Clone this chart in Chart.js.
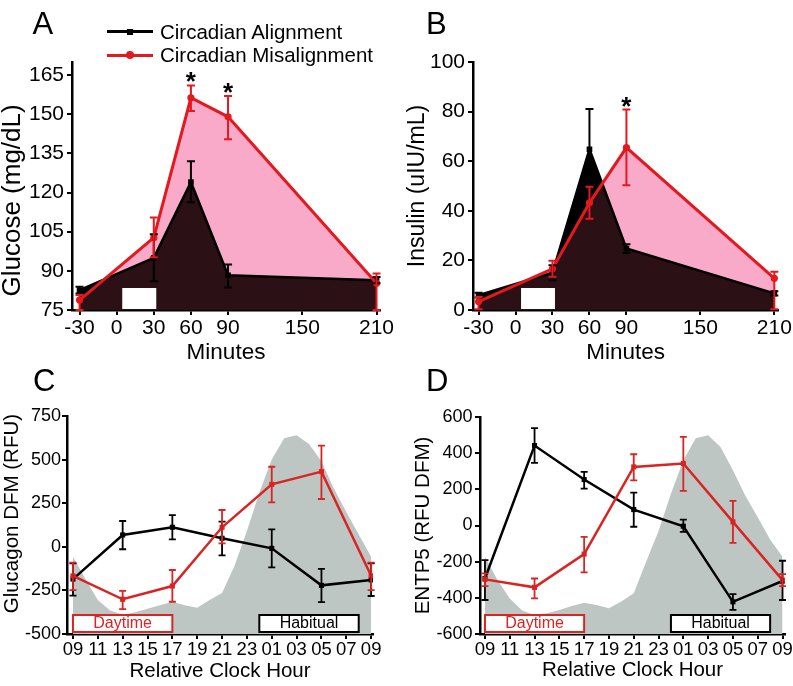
<!DOCTYPE html>
<html>
<head>
<meta charset="utf-8">
<title>Circadian alignment vs misalignment</title>
<script src="https://cdn.jsdelivr.net/npm/chart.js@4.4.1/dist/chart.umd.min.js"></script>
<style>
  body { margin: 0; background: #fff; font-family: 'Liberation Sans', Arial, sans-serif; }
  #fig { position: relative; width: 793px; height: 686px; overflow: hidden; }
  canvas { position: absolute; }
  .letter { position: absolute; font-size: 31px; line-height: 30px; color: #000; }
  .legend-row { position: absolute; left: 107px; height: 24px; width: 300px; font-size: 20.5px; line-height: 24px; white-space: nowrap; }
  .legend-row .swatch { position: absolute; left: 0; top: 10.5px; width: 46px; height: 3px; }
  .legend-row .mark { position: absolute; }
  .legend-row .label { position: absolute; left: 53px; top: 0; }
</style>
</head>
<body>
<div id="fig">
  <canvas id="chartA" width="396" height="372" style="left:0;top:0"></canvas>
  <canvas id="chartB" width="397" height="372" style="left:396px;top:0"></canvas>
  <canvas id="chartC" width="396" height="314" style="left:0;top:372px"></canvas>
  <canvas id="chartD" width="397" height="314" style="left:396px;top:372px"></canvas>

  <div class="letter" style="left:32.5px;top:9px">A</div>
  <div class="letter" style="left:426px;top:9px">B</div>
  <div class="letter" style="left:33px;top:365.5px">C</div>
  <div class="letter" style="left:426px;top:365.5px">D</div>

  <div class="legend-row" style="top:19.5px">
    <span class="swatch" style="background:#000"></span>
    <span class="mark" style="left:20px;top:9px;width:6px;height:6px;background:#000"></span>
    <span class="label">Circadian Alignment</span>
  </div>
  <div class="legend-row" style="top:43px">
    <span class="swatch" style="background:#e3191e"></span>
    <span class="mark" style="left:19px;top:8px;width:8px;height:8px;border-radius:50%;background:#e3191e"></span>
    <span class="label">Circadian Misalignment</span>
  </div>
</div>

<script>
// A / B: meal test, minutes from start of meal
const minutes = [-30, 30, 60, 90, 210];
const minuteTicks = [-30, 0, 30, 60, 90, 150, 210];
const mealWindow = [4.5, 32];

const glucoseAlign   = [82.6, 95, 124, 88.3, 86.4];
const glucoseAlignHi = [83.9, 104, 132, 92.4, 87.6];
const glucoseAlignLo = [81.3, 86, 116.3, 83.6, 85.2];
const glucoseMis     = [78.8, 102.7, 156.3, 149, 85.2];
const glucoseMisHi   = [80.7, 110.4, 161, 157, 89];
const glucoseMisLo   = [75, 95.2, 151.2, 140.4, 75];
const glucoseTicks = [75, 90, 105, 120, 135, 150, 165];
const glucoseStars = [60, 90];

const insulinAlign   = [6.0, 15, 64.8, 24.8, 6.7];
const insulinAlignHi = [7, 18, 81, 26.5, 7.6];
const insulinAlignLo = [5, 12, 48.6, 23, 5.8];
const insulinMis     = [3.4, 16.6, 43.2, 65.5, 12.8];
const insulinMisHi   = [5.2, 19.9, 49.7, 80.8, 15.4];
const insulinMisLo   = [0.3, 13.4, 36.8, 50.3, 0.3];
const insulinTicks = [0, 20, 40, 60, 80, 100];
const insulinStars = [90];

// C / D: relative clock hour (0 = 09:00)
const hours = [0, 4, 8, 12, 16, 20, 24];
const bandHours = [0, 1, 2, 3, 4, 5, 6, 7, 8, 9, 10, 11, 12, 13, 14, 15, 16, 17, 18, 19, 20, 21, 22, 23, 24];
const clockTicks = [0, 2, 4, 6, 8, 10, 12, 14, 16, 18, 20, 22, 24];
const clockLabels = ['09', '11', '13', '15', '17', '19', '21', '23', '01', '03', '05', '07', '09'];
const dayWindow = [0, 8];
const habitualWindow = [15, 23];

const glucagonAlign   = [-185, 68, 112, 49, -9, -221, -190];
const glucagonAlignHi = [-95, 148, 182, 144, 100, -127, -95];
const glucagonAlignLo = [-280, -14, 43, -49, -118, -317, -282];
const glucagonMis     = [-167, -301, -225, 112, 358, 431, -166];
const glucagonMisHi   = [-91, -253, -133, 211, 459, 580, -91];
const glucagonMisLo   = [-248, -357, -315, 20, 255, 274, -248];
const glucagonBand = [-57, -185, -305, -365, -390, -375, -355, -335, -315, -335, -350, -305, -265, -110, 90, 310, 500, 622, 640, 590, 490, 335, 200, 70, -57];
const glucagonTicks = [-500, -250, 0, 250, 500, 750];

const entpAlign   = [-293, 442, 254, 88, -4, -422, -307];
const entpAlignHi = [-191, 539, 296, 182, 33, -379, -195];
const entpAlignLo = [-412, 346, 204, -7, -35, -467, -412];
const entpMis     = [-298, -342, -158, 324, 343, 20, -302];
const entpMisHi   = [-265, -293, -63, 394, 490, 136, -269];
const entpMisLo   = [-335, -403, -259, 250, 191, -96, -335];
const entpBand = [-173, -300, -403, -470, -495, -485, -467, -445, -427, -440, -458, -420, -375, -200, -30, 175, 361, 482, 499, 434, 305, 165, 45, -78, -173];
const entpTicks = [-600, -400, -200, 0, 200, 400, 600];

const FONT = "'Liberation Sans', Arial, sans-serif";
const RED = '#e3191e';
const RED2 = '#d82423';
const PINK = '#f9aac9';
const MAROON = '#2b1016';
const GRAY = '#bec6c4';

const pts = (xs, ys) => xs.map((x, i) => ({ x: x, y: ys[i] }));

function series(label, xs, ys, color, style, order, width, radius) {
    return {
        label: label, data: pts(xs, ys), borderColor: color, backgroundColor: color,
        borderWidth: width, pointStyle: style, pointRadius: radius, pointBorderWidth: 0,
        tension: 0, fill: false, order: order
    };
}

function axes(o) {
    return {
        x: {
            type: 'linear', min: o.xMin, max: o.xMax,
            afterBuildTicks: s => { s.ticks = o.xTicks.map(v => ({ value: v })); },
            afterFit: s => { s.height = o.xHeight; },
            grid: { drawOnChartArea: false, drawTicks: true, tickLength: 5, color: '#000', lineWidth: 2 },
            border: { color: '#000', width: 2.5 },
            ticks: {
                color: '#000', font: { family: FONT, size: o.xTickSize }, padding: o.xTickPad,
                maxRotation: 0, autoSkip: false,
                callback: o.xLabels ? (v, i) => o.xLabels[i] : v => String(v)
            },
            title: { display: true, text: o.xTitle, color: '#000', font: { family: FONT, size: o.xTitleSize }, padding: { top: 0, bottom: o.xTitlePad } }
        },
        y: {
            type: 'linear', min: o.yMin, max: o.yMax,
            afterBuildTicks: s => { s.ticks = o.yTicks.map(v => ({ value: v })); },
            afterFit: s => { s.width = o.yWidth; },
            grid: { drawOnChartArea: false, drawTicks: true, tickLength: 5, color: '#000', lineWidth: 2 },
            border: { color: '#000', width: 2.5 },
            ticks: { color: '#000', font: { family: FONT, size: o.yTickSize }, padding: o.yTickPad, callback: v => String(v) },
            title: { display: true, text: o.yTitle, color: '#000', font: { family: FONT, size: o.yTitleSize }, padding: { top: o.yTitlePad, bottom: 0 } }
        }
    };
}

function drawErrorBars(chart, bars) {
    const ctx = chart.ctx, ys = chart.scales.y;
    bars.forEach(b => {
        const meta = chart.getDatasetMeta(b.index);
        ctx.save();
        ctx.strokeStyle = b.color;
        ctx.lineWidth = b.width;
        meta.data.forEach((p, j) => {
            const top = ys.getPixelForValue(b.hi[j]);
            const bot = ys.getPixelForValue(b.lo[j]);
            ctx.beginPath();
            ctx.moveTo(p.x, top); ctx.lineTo(p.x, bot);
            ctx.moveTo(p.x - b.cap, top); ctx.lineTo(p.x + b.cap, top);
            ctx.moveTo(p.x - b.cap, bot); ctx.lineTo(p.x + b.cap, bot);
            ctx.stroke();
        });
        ctx.restore();
    });
}

function areaPath(chart, index) {
    const points = chart.getDatasetMeta(index).data;
    const base = chart.chartArea.bottom;
    const path = new Path2D();
    path.moveTo(points[0].x, base);
    points.forEach(p => path.lineTo(p.x, p.y));
    path.lineTo(points[points.length - 1].x, base);
    path.closePath();
    return path;
}

// shaded areas under both curves, overlap darker, plus white meal bar
function mealPlugin(bars, stars, starHi) {
    return {
        id: 'mealMarks',
        beforeDatasetsDraw(chart) {
            const ctx = chart.ctx;
            const align = areaPath(chart, 0), mis = areaPath(chart, 1);
            ctx.save();
            ctx.fillStyle = PINK; ctx.fill(mis);
            ctx.fillStyle = '#000'; ctx.fill(align);
            ctx.clip(align);
            ctx.fillStyle = MAROON; ctx.fill(mis);
            ctx.restore();

            const xs = chart.scales.x;
            const x0 = xs.getPixelForValue(mealWindow[0]), x1 = xs.getPixelForValue(mealWindow[1]);
            ctx.fillStyle = '#fff';
            ctx.fillRect(x0, chart.chartArea.bottom - 22, x1 - x0, 21);
        },
        afterDatasetsDraw(chart) {
            drawErrorBars(chart, bars);
            const ctx = chart.ctx, xs = chart.scales.x, ys = chart.scales.y;
            ctx.save();
            ctx.fillStyle = '#000';
            ctx.font = 'bold 26px ' + FONT;
            ctx.textAlign = 'center';
            ctx.textBaseline = 'alphabetic';
            stars.forEach(m => {
                const j = minutes.indexOf(m);
                ctx.fillText('*', xs.getPixelForValue(m), ys.getPixelForValue(starHi[j]) + 5);
            });
            ctx.restore();
        }
    };
}

function clockPlugin(bars) {
    return {
        id: 'clockMarks',
        afterDatasetsDraw(chart) {
            const ctx = chart.ctx, xs = chart.scales.x, bottom = chart.chartArea.bottom;
            [[dayWindow, 'Daytime', RED2], [habitualWindow, 'Habitual', '#000']].forEach(([w, text, color]) => {
                const x0 = xs.getPixelForValue(w[0]), x1 = xs.getPixelForValue(w[1]);
                ctx.save();
                ctx.fillStyle = '#fff';
                ctx.fillRect(x0, bottom - 19, x1 - x0, 17);
                ctx.strokeStyle = color; ctx.lineWidth = 2;
                ctx.strokeRect(x0, bottom - 19, x1 - x0, 17);
                ctx.fillStyle = color;
                ctx.font = '16px ' + FONT;
                ctx.textAlign = 'center';
                ctx.textBaseline = 'middle';
                ctx.fillText(text, (x0 + x1) / 2, bottom - 10);
                ctx.restore();
            });
            drawErrorBars(chart, bars);
        }
    };
}

function baseOptions(scales, padding) {
    return {
        responsive: false, animation: false, events: [], devicePixelRatio: 1,
        layout: { padding: padding, autoPadding: false },
        plugins: { legend: { display: false }, tooltip: { enabled: false } },
        scales: scales
    };
}

// Panel A - glucose
new Chart(document.getElementById('chartA'), {
    type: 'line',
    data: { datasets: [
        series('Circadian Alignment', minutes, glucoseAlign, '#000', 'rect', 2, 2.5, 4),
        series('Circadian Misalignment', minutes, glucoseMis, RED, 'circle', 1, 3, 3.6)
    ] },
    options: baseOptions(axes({
        xMin: -36.1, xMax: 212.8, xTicks: minuteTicks, xHeight: 62, xTickPad: 1, xTickSize: 21, xTitle: 'Minutes', xTitleSize: 22.5, xTitlePad: 5.5,
        yMin: 75, yMax: 170, yTicks: glucoseTicks, yWidth: 72, yTickPad: 3, yTickSize: 21,
        yTitle: 'Glucose (mg/dL)    ', yTitleSize: 26, yTitlePad: -2.5
    }), { left: 0, top: 62, right: 16, bottom: 0 }),
    plugins: [mealPlugin([
        { index: 0, hi: glucoseAlignHi, lo: glucoseAlignLo, color: '#000', width: 2, cap: 4 },
        { index: 1, hi: glucoseMisHi, lo: glucoseMisLo, color: RED, width: 2, cap: 4 }
    ], glucoseStars, glucoseMisHi)]
});

// Panel B - insulin
new Chart(document.getElementById('chartB'), {
    type: 'line',
    data: { datasets: [
        series('Circadian Alignment', minutes, insulinAlign, '#000', 'rect', 2, 2.5, 4),
        series('Circadian Misalignment', minutes, insulinMis, RED, 'circle', 1, 3, 3.6)
    ] },
    options: baseOptions(axes({
        xMin: -34.5, xMax: 213.2, xTicks: minuteTicks, xHeight: 62, xTickPad: 1, xTickSize: 21, xTitle: 'Minutes', xTitleSize: 22.5, xTitlePad: 5.5,
        yMin: 0, yMax: 100, yTicks: insulinTicks, yWidth: 77, yTickPad: 3, yTickSize: 21,
        yTitle: 'Insulin (uIU/mL)', yTitleSize: 23, yTitlePad: 8
    }), { left: 0, top: 62, right: 13, bottom: 0 }),
    plugins: [mealPlugin([
        { index: 0, hi: insulinAlignHi, lo: insulinAlignLo, color: '#000', width: 2, cap: 4 },
        { index: 1, hi: insulinMisHi, lo: insulinMisLo, color: RED, width: 2, cap: 4 }
    ], insulinStars, insulinMisHi)]
});

function bandSet(values) {
    return {
        label: 'band', data: pts(bandHours, values), borderWidth: 0, pointRadius: 0,
        backgroundColor: GRAY, borderColor: GRAY, fill: 'start', tension: 0, order: 3
    };
}

// Panel C - glucagon
new Chart(document.getElementById('chartC'), {
    type: 'line',
    data: { datasets: [
        series('Circadian Alignment', hours, glucagonAlign, '#000', 'rect', 2, 2.5, 3.6),
        series('Circadian Misalignment', hours, glucagonMis, RED2, 'rect', 1, 2.5, 3.6),
        bandSet(glucagonBand)
    ] },
    options: baseOptions(axes({
        xMin: -0.48, xMax: 24.15, xTicks: clockTicks, xLabels: clockLabels, xHeight: 52, xTickPad: 0, xTickSize: 18.5, xTitle: 'Relative Clock Hour', xTitleSize: 20.5, xTitlePad: 2.2,
        yMin: -500, yMax: 750, yTicks: glucagonTicks, yWidth: 67, yTickPad: 1, yTickSize: 18,
        yTitle: '    Glucagon DFM (RFU)', yTitleSize: 20.5, yTitlePad: 0
    }), { left: 0, top: 44, right: 23, bottom: 0 }),
    plugins: [clockPlugin([
        { index: 0, hi: glucagonAlignHi, lo: glucagonAlignLo, color: '#000', width: 1.8, cap: 3.5 },
        { index: 1, hi: glucagonMisHi, lo: glucagonMisLo, color: RED2, width: 1.8, cap: 3.5 }
    ])]
});

// Panel D - ENTP5
new Chart(document.getElementById('chartD'), {
    type: 'line',
    data: { datasets: [
        series('Circadian Alignment', hours, entpAlign, '#000', 'rect', 2, 2.5, 3.6),
        series('Circadian Misalignment', hours, entpMis, RED2, 'rect', 1, 2.5, 3.6),
        bandSet(entpBand)
    ] },
    options: baseOptions(axes({
        xMin: -0.4, xMax: 24.2, xTicks: clockTicks, xLabels: clockLabels, xHeight: 52, xTickPad: 0, xTickSize: 18.5, xTitle: 'Relative Clock Hour', xTitleSize: 20.5, xTitlePad: 2.9,
        yMin: -600, yMax: 600, yTicks: entpTicks, yWidth: 84, yTickPad: 2.5, yTickSize: 18,
        yTitle: 'ENTP5 (RFU DFM)', yTitleSize: 20.5, yTitlePad: 15.4
    }), { left: 0, top: 45, right: 8, bottom: 0 }),
    plugins: [clockPlugin([
        { index: 0, hi: entpAlignHi, lo: entpAlignLo, color: '#000', width: 1.8, cap: 3.5 },
        { index: 1, hi: entpMisHi, lo: entpMisLo, color: RED2, width: 1.8, cap: 3.5 }
    ])]
});
</script>
</body>
</html>
